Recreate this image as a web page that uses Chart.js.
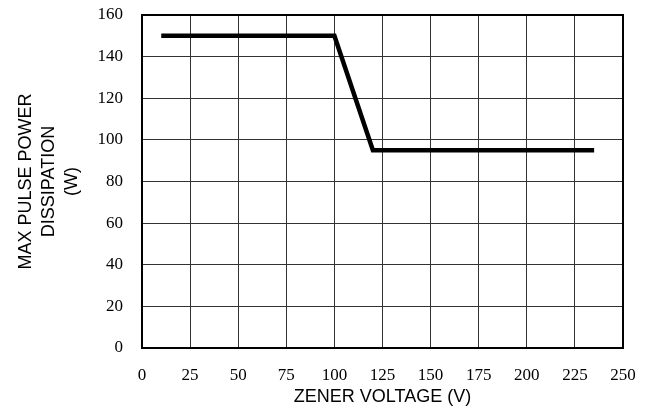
<!DOCTYPE html>
<html>
<head>
<meta charset="utf-8">
<script src="https://cdn.jsdelivr.net/npm/chart.js@4"></script>
<style>
  html, body { margin: 0; padding: 0; background: #fff; }
  #wrap { width: 650px; height: 408px; }
</style>
</head>
<body>
<div id="wrap"><canvas id="c" width="650" height="408"></canvas></div>
<script>
// curve: zener voltage (V) vs max pulse power (W)
const voltage = [10, 100, 120, 235]
const power = [150, 150, 95, 95]

const xTicks = [0, 25, 50, 75, 100, 125, 150, 175, 200, 225, 250]
const yTicks = [0, 20, 40, 60, 80, 100, 120, 140, 160]

const serif = "'Liberation Serif', 'Times New Roman', serif"
const sans = "'Liberation Sans', Arial, sans-serif"

new Chart(document.getElementById("c"), {
  type: "line",
  data: {
    datasets: [{
      data: voltage.map((v, i) => ({ x: v, y: power[i] })),
      borderColor: "#000",
      borderWidth: 4.5,
      pointRadius: 0,
      tension: 0,
      fill: false
    }]
  },
  options: {
    responsive: false,
    animation: false,
    layout: { padding: { left: 13, right: 27, top: 15, bottom: 0 } },
    plugins: { legend: { display: false }, tooltip: { enabled: false } },
    scales: {
      x: {
        type: "linear",
        min: 0, max: 250,
        afterBuildTicks: (axis) => { axis.ticks = xTicks.map(v => ({ value: v })) },
        // pin the axis band so the plot bottom lands where the source has it,
        // and drop the end-label overhang so layout.padding alone sets the edges
        afterFit: (axis) => { axis.height = 60; axis.paddingLeft = 0; axis.paddingRight = 0 },
        ticks: { color: "#000", font: { family: serif, size: 17 }, padding: 17, maxRotation: 0, autoSkip: false },
        grid: { color: "#333", lineWidth: 1, drawTicks: false },
        border: { color: "#000", width: 2 },
        title: { display: true, text: "ZENER VOLTAGE (V)", color: "#000", font: { family: sans, size: 18 }, padding: { top: 0, bottom: 0 } }
      },
      y: {
        min: 0, max: 160,
        afterBuildTicks: (axis) => { axis.ticks = yTicks.map(v => ({ value: v })) },
        afterFit: (axis) => { axis.width = 129; axis.paddingTop = 0; axis.paddingBottom = 0 },
        ticks: { color: "#000", font: { family: serif, size: 17 }, padding: 19 },
        grid: { color: "#333", lineWidth: 1, drawTicks: false },
        border: { color: "#000", width: 2 },
        title: { display: true, text: ["MAX PULSE POWER", "DISSIPATION", "(W)"], color: "#000", font: { family: sans, size: 18, lineHeight: 1.3 }, padding: { top: 1, bottom: 0 } }
      }
    }
  },
  plugins: [{
    // box the plot area on the top and right like the source figure
    id: "frame",
    afterDraw(chart) {
      const { ctx, chartArea: a } = chart
      ctx.save()
      ctx.strokeStyle = "#000"
      ctx.lineWidth = 2
      ctx.strokeRect(a.left, a.top, a.right - a.left, a.bottom - a.top)
      ctx.restore()
    }
  }]
})
</script>
</body>
</html>
